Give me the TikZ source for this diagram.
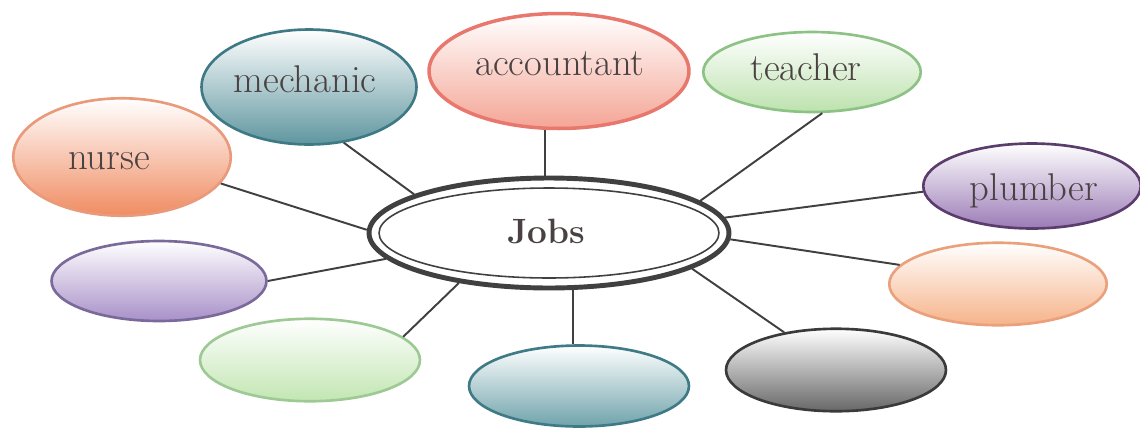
\documentclass[tikz,border=0pt]{standalone}
\usetikzlibrary{shapes.geometric}
\definecolor{txt}{HTML}{4A4242}
\definecolor{linkc}{HTML}{404040}
\definecolor{nurseB}{HTML}{E99A7A}\definecolor{nurseF}{HTML}{F08C62}
\definecolor{mechB}{HTML}{3E7A85}\definecolor{mechF}{HTML}{5F969F}
\definecolor{accB}{HTML}{E8786E}\definecolor{accF}{HTML}{F4A595}
\definecolor{teaB}{HTML}{8DC285}\definecolor{teaF}{HTML}{BDE2AE}
\definecolor{pluB}{HTML}{5A3D6C}\definecolor{pluF}{HTML}{9B7BB6}
\definecolor{purB}{HTML}{7A6A9C}\definecolor{purF}{HTML}{A890C8}
\definecolor{grnB}{HTML}{9DC995}\definecolor{grnF}{HTML}{C2E6B2}
\definecolor{tlB}{HTML}{3F7B87}\definecolor{tlF}{HTML}{6FA3AB}
\definecolor{gryB}{HTML}{3A3A3A}\definecolor{gryF}{HTML}{676767}
\definecolor{orB}{HTML}{EBA07C}\definecolor{orF}{HTML}{F6B389}
\tikzset{
  bub/.style={ellipse, draw, line width=1.5pt, inner sep=0pt},
  shade2/.style={draw=#1B, top color=white, middle color=#1F!35!white, bottom color=#1F},
  txtlab/.style={font=\fontsize{22}{26}\selectfont, text=txt, inner sep=0pt,
    text height=9.5pt, text depth=0pt},
  link/.style={draw=linkc, line width=1.1pt},
}
\begin{document}
\begin{tikzpicture}[x=0.02cm, y=-0.02cm]
\clip (0,0) rectangle (1140,427);
\fill[white] (0,0) rectangle (1140,427);
% outer bubbles
\node[bub, shade2=nurse, minimum width=4.35cm, minimum height=2.35cm,
  label={[txtlab, xshift=-0.26cm, yshift=-0.08cm]center:nurse}] (nurse) at (122,157) {};
\node[bub, shade2=mech, minimum width=4.3cm, minimum height=2.3cm,
  label={[txtlab, xshift=-0.08cm, yshift=0.06cm]center:mechanic}] (mech) at (309,87) {};
\node[bub, shade2=acc, line width=2pt, minimum width=5.2cm, minimum height=2.3cm,
  label={[txtlab, xshift=0.02cm, yshift=0.08cm]center:accountant}] (acc) at (559,71) {};
\node[bub, shade2=tea, minimum width=4.35cm, minimum height=1.6cm,
  label={[txtlab, xshift=-0.12cm, yshift=0cm]center:teacher}] (tea) at (812,72) {};
\node[bub, shade2=plu, minimum width=4.35cm, minimum height=1.7cm,
  label={[txtlab, xshift=0.04cm, yshift=-0.13cm]center:plumber}] (plu) at (1032,186) {};
\node[bub, shade2=pur, minimum width=4.3cm, minimum height=1.6cm] (pur) at (159,281) {};
\node[bub, shade2=grn, minimum width=4.4cm, minimum height=1.65cm] (grn) at (310,360) {};
\node[bub, shade2=tl, minimum width=4.4cm, minimum height=1.62cm] (tl) at (579,386) {};
\node[bub, shade2=gry, minimum width=4.4cm, minimum height=1.65cm] (gry) at (836,370) {};
\node[bub, shade2=or, minimum width=4.35cm, minimum height=1.65cm] (or) at (998,284) {};
% central node
\node[ellipse, draw=linkc, line width=2.8pt, fill=white, inner sep=0pt,
  minimum width=7.2cm, minimum height=2.2cm,
  label={[txtlab, font=\fontsize{20}{24}\selectfont\bfseries, text height=8.9pt, xshift=-0.06cm, yshift=-0.06cm]center:Jobs}] (jobs) at (549,233) {};
\node[ellipse, draw=linkc, line width=0.9pt, inner sep=0pt,
  minimum width=6.8cm, minimum height=1.8cm] (jobsin) at (jobs.center) {};
% connectors
\draw[link] (jobs.179) -- (nurse.-15.6);
\draw[link] (jobs.164.7) -- (mech.-58);
\draw[link] (acc.-103) -- (acc.-103 |- jobs.north);
\draw[link] (jobs.12) -- (tea.-76);
\draw[link] (jobs.5.7) -- (plu.183);
\draw[link] (jobs.-2.2) -- (or.169);
\draw[link] (jobs.-14.8) -- (gry.144);
\draw[link] (tl.98) -- (tl.98 |- jobs.south);
\draw[link] (jobs.-151) -- (grn.14);
\draw[link] (jobs.189.5) -- (pur.-0.5);
\end{tikzpicture}
\end{document}
